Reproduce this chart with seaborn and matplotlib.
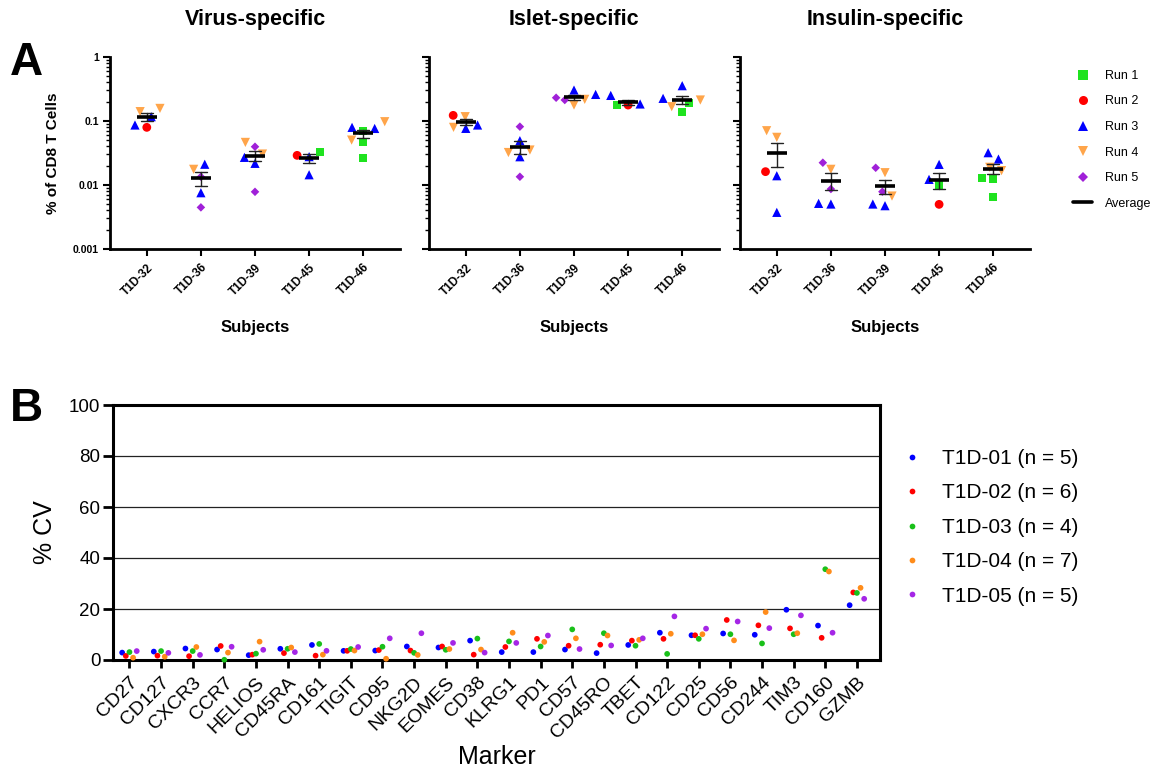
import numpy as np
import pandas as pd
import matplotlib
matplotlib.use("Agg")
import matplotlib.pyplot as plt
import seaborn as sns
from matplotlib.lines import Line2D
from matplotlib.markers import MarkerStyle
from matplotlib.ticker import NullFormatter, LogLocator

# ---------------- data: panel A ----------------
subjects_A = ["T1D-32", "T1D-36", "T1D-39", "T1D-45", "T1D-46"]
run_names = ["Run 1", "Run 2", "Run 3", "Run 4", "Run 5"]
panel_titles = ["Virus-specific", "Islet-specific", "Insulin-specific"]

virus_subject = ["T1D-32"] * 5 + ["T1D-36"] * 5 + ["T1D-39"] * 6 + ["T1D-45"] * 4 + ["T1D-46"] * 7
virus_run = [4, 4, 3, 3, 2,  4, 5, 3, 3, 5,  4, 4, 3, 3, 5, 5,  2, 3, 3, 1,  4, 1, 3, 3, 4, 1, 1]
virus_value = [0.156, 0.139, 0.116, 0.086, 0.079,
               0.0175, 0.0134, 0.021, 0.00755, 0.00446,
               0.046, 0.0303, 0.0269, 0.0217, 0.0394, 0.0078,
               0.0289, 0.0144, 0.0276, 0.033,
               0.050, 0.0262, 0.079, 0.076, 0.0968, 0.0472, 0.070]

islet_subject = ["T1D-32"] * 5 + ["T1D-36"] * 6 + ["T1D-39"] * 6 + ["T1D-45"] * 4 + ["T1D-46"] * 6
islet_run = [2, 4, 3, 4, 3,  5, 3, 4, 4, 3, 5,  4, 4, 3, 3, 5, 5,  3, 2, 1, 3,  3, 3, 4, 1, 4, 1]
islet_value = [0.1216, 0.116, 0.086, 0.079, 0.0762,
               0.081, 0.049, 0.035, 0.032, 0.0275, 0.0134,
               0.216, 0.176, 0.258, 0.302, 0.211, 0.229,
               0.183, 0.176, 0.176, 0.249,
               0.353, 0.224, 0.211, 0.187, 0.166, 0.139]

insulin_subject = ["T1D-32"] * 5 + ["T1D-36"] * 5 + ["T1D-39"] * 6 + ["T1D-45"] * 4 + ["T1D-46"] * 7
insulin_run = [2, 4, 4, 3, 3,  5, 5, 3, 3, 4,  5, 4, 3, 3, 4, 5,  3, 3, 1, 2,  3, 3, 4, 4, 1, 1, 1]
insulin_value = [0.0161, 0.0552, 0.070, 0.0139, 0.00373,
                 0.0222, 0.00862, 0.00503, 0.00515, 0.0175,
                 0.0185, 0.0067, 0.00474, 0.00503, 0.0155, 0.00783,
                 0.0209, 0.0122, 0.00995, 0.00497,
                 0.0318, 0.0253, 0.0188, 0.0167, 0.0129, 0.0126, 0.00655]

# ---------------- data: panel B ----------------
markers_B = ["CD27", "CD127", "CXCR3", "CCR7", "HELIOS", "CD45RA", "CD161", "TIGIT",
             "CD95", "NKG2D", "EOMES", "CD38", "KLRG1", "PD1", "CD57", "CD45RO",
             "TBET", "CD122", "CD25", "CD56", "CD244", "TIM3", "CD160", "GZMB"]
subjects_B = ["T1D-01 (n = 5)", "T1D-02 (n = 6)", "T1D-03 (n = 4)", "T1D-04 (n = 7)", "T1D-05 (n = 5)"]
cv_t1d01 = [2.9, 3.3, 4.5, 4.1, 1.9, 4.4, 5.9, 3.6, 3.7, 5.3, 4.9, 7.6,
            3.1, 3.1, 4.1, 2.7, 5.9, 10.7, 9.7, 10.4, 9.9, 19.7, 13.5, 21.5]
cv_t1d02 = [1.6, 1.7, 1.5, 5.5, 2.1, 2.7, 1.7, 3.6, 3.9, 3.7, 5.3, 2.1,
            5.1, 8.3, 5.6, 6.0, 7.6, 8.3, 9.7, 15.7, 13.6, 12.4, 8.7, 26.5]
cv_t1d03 = [3.1, 3.5, 3.5, 0.1, 2.5, 4.4, 6.3, 4.3, 5.2, 2.8, 4.0, 8.4,
            7.3, 5.3, 12.0, 10.5, 5.6, 2.4, 8.3, 10.1, 6.5, 10.1, 35.6, 26.3]
cv_t1d04 = [0.9, 1.3, 5.1, 2.9, 7.2, 4.9, 2.1, 3.7, 0.5, 2.0, 4.3, 4.1,
            10.7, 7.1, 8.5, 9.6, 7.9, 10.3, 10.1, 7.7, 18.8, 10.5, 34.7, 28.3]
cv_t1d05 = [3.5, 2.8, 2.0, 5.2, 4.0, 3.1, 3.6, 5.1, 8.5, 10.5, 6.7, 2.9,
            6.7, 9.6, 4.3, 5.7, 8.5, 17.1, 12.3, 15.1, 12.5, 17.5, 10.7, 24.0]

# ---------------- styles ----------------
run_colors = {"Run 1": "#1FE31F", "Run 2": "#FF0000", "Run 3": "#0000FF",
              "Run 4": "#FFA54A", "Run 5": "#A020D8"}
run_marker = {1: "s", 2: "o", 3: "^", 4: "v", 5: "D"}
run_size = {1: 34, 2: 40, 3: 44, 4: 44, 5: 19}
subj_colors = ["#0000FF", "#FF0000", "#19C019", "#FF8C1A", "#A526E6"]

sns.set_style("ticks")
plt.rcParams["font.family"] = ["Liberation Sans", "DejaVu Sans"]
plt.rcParams["axes.linewidth"] = 2.0
for key in ["text.color", "axes.labelcolor", "xtick.color", "ytick.color", "axes.edgecolor"]:
    plt.rcParams[key] = "black"

W, H = 1170, 771
fig = plt.figure(figsize=(W / 100, H / 100), dpi=100)


def px_axes(left, top, right, bottom):
    return fig.add_axes([left / W, 1 - bottom / H, (right - left) / W, (bottom - top) / H])


def marker_path(m):
    ms = MarkerStyle(m)
    return ms.get_path().transformed(ms.get_transform())


panelA = [(virus_subject, virus_run, virus_value),
          (islet_subject, islet_run, islet_value),
          (insulin_subject, insulin_run, insulin_value)]
lefts = [110, 429, 740]

for i, ((subj, run, val), left) in enumerate(zip(panelA, lefts)):
    ax = px_axes(left, 56.7, left + 290, 249)
    df = pd.DataFrame({"subject": subj, "run": run, "value": val})
    df["run_label"] = ["Run %d" % r for r in df["run"]]

    sns.pointplot(data=df, x="subject", y="value", order=subjects_A,
                  estimator="mean", errorbar="se", color="black",
                  markers="_", linestyles="none", markersize=14.5,
                  markeredgewidth=2.6, capsize=0.22,
                  err_kws={"linewidth": 1.0, "color": "#222222", "zorder": 4},
                  zorder=5, legend=False, ax=ax)
    ax.set_yscale("log")
    n0 = len(ax.collections)
    # invisible edge widens the swarm spacing like the original scatter layout
    sns.swarmplot(data=df, x="subject", y="value", hue="run_label",
                  order=subjects_A, hue_order=run_names, palette=run_colors,
                  size=6.5, linewidth=1.8, edgecolor="none", legend=False, ax=ax, zorder=3)
    for coll in ax.collections[n0:]:
        off = coll.get_offsets()
        if len(off) == 0:
            continue
        idx = int(round(off[0, 0]))
        sub = df[df["subject"] == subjects_A[idx]]
        coll.set_paths([marker_path(run_marker[r]) for r in sub["run"]])
        coll.set_sizes(np.array([run_size[r] for r in sub["run"]], dtype=float))

    ax.set_ylim(0.001, 1)
    ax.set_xlim(-0.68, 4.68)
    ax.set_yticks([0.001, 0.01, 0.1, 1])
    ax.yaxis.set_minor_locator(LogLocator(base=10, subs=np.arange(2, 10)))
    ax.yaxis.set_minor_formatter(NullFormatter())
    if i == 0:
        ax.set_yticklabels(["0.001", "0.01", "0.1", "1"])
        ax.set_ylabel("% of CD8 T Cells", fontsize=11, fontweight="bold")
        ax.yaxis.set_label_coords(-0.197, 0.5)
        ax.yaxis.label.set_va("center")
    else:
        ax.set_yticklabels([])
        ax.set_ylabel("")
    ax.tick_params(axis="y", which="major", length=5, width=1.5, labelsize=7.5, pad=3)
    ax.tick_params(axis="y", which="minor", length=3, width=1.0)
    ax.tick_params(axis="x", length=5, width=1.5, labelsize=8.5, pad=4)
    for lbl in ax.get_yticklabels():
        lbl.set_fontweight("bold")
    ax.set_xticks(range(len(subjects_A)))
    ax.set_xticklabels(subjects_A, rotation=45, ha="right", rotation_mode="anchor",
                       fontweight="bold")
    ax.set_xlabel("Subjects", fontsize=12, fontweight="bold")
    ax.xaxis.set_label_coords(0.5, -0.406)
    ax.xaxis.label.set_va("center")
    sns.despine(ax=ax)
    for s in ["left", "bottom"]:
        ax.spines[s].set_linewidth(2.0)
    fig.text((left + 145) / W, 1 - 20 / H, panel_titles[i], ha="center", va="center",
             fontsize=15.5, fontweight="bold")

# legend panel A
handles = []
for k, name in enumerate(run_names, start=1):
    handles.append(Line2D([], [], marker=run_marker[k], color=run_colors[name],
                          linestyle="none", markersize=6.5 if k != 5 else 4.8,
                          markeredgewidth=0))
handles.append(Line2D([], [], color="black", lw=2.6))
fig.legend(handles, run_names + ["Average"], loc="upper left",
           bbox_to_anchor=(1073 / W, 1 - 70 / H), frameon=False, fontsize=9,
           handlelength=1.55, handletextpad=1.0, labelspacing=1.08,
           borderpad=0, borderaxespad=0)

fig.text(10 / W, 1 - 75 / H, "A", fontsize=33, fontweight="bold", va="baseline")
fig.text(10 / W, 1 - 421 / H, "B", fontsize=33, fontweight="bold", va="baseline")

# ---------------- panel B ----------------
axB = px_axes(113, 405, 880, 660)
cv_series = [cv_t1d01, cv_t1d02, cv_t1d03, cv_t1d04, cv_t1d05]
rows = []
for h, (name, vals) in enumerate(zip(subjects_B, cv_series)):
    for m, v in enumerate(vals):
        rows.append({"marker_idx": m, "subject": name, "hue_idx": h, "cv": v})
dfB = pd.DataFrame(rows)
dfB["xpos"] = dfB["marker_idx"] + (dfB["hue_idx"] - 2) * 0.115

axB.yaxis.grid(True, color="#222222", linewidth=0.9, zorder=0)
axB.set_axisbelow(True)
sns.scatterplot(data=dfB, x="xpos", y="cv", hue="subject", hue_order=subjects_B,
                palette=subj_colors, s=17, linewidth=0, ax=axB, zorder=3, clip_on=False)
axB.set_xlim(-0.52, 23.73)
axB.set_ylim(0, 100)
axB.set_yticks([0, 20, 40, 60, 80, 100])
axB.set_xticks(range(len(markers_B)))
axB.set_xticklabels(markers_B, rotation=45, ha="right", rotation_mode="anchor")
axB.tick_params(axis="x", length=6, width=2, labelsize=14, pad=4)
axB.tick_params(axis="y", length=7, width=2, labelsize=13.5, pad=2)
for s in axB.spines.values():
    s.set_linewidth(2.2)
axB.set_ylabel("% CV", fontsize=18)
axB.yaxis.set_label_coords(-0.089, 0.5)
axB.yaxis.label.set_va("center")
axB.set_xlabel("Marker", fontsize=18)
axB.xaxis.set_label_coords(0.5, (660 - 757) / 255)
axB.xaxis.label.set_va("center")
axB.legend(loc="upper left", bbox_to_anchor=(902 / W, 1 - 449 / H),
           bbox_transform=fig.transFigure, frameon=False, fontsize=15,
           handlelength=1.0, handletextpad=0.9, labelspacing=0.74,
           borderpad=0, borderaxespad=0, markerscale=1.0)

fig.savefig("out.png", dpi=100)
